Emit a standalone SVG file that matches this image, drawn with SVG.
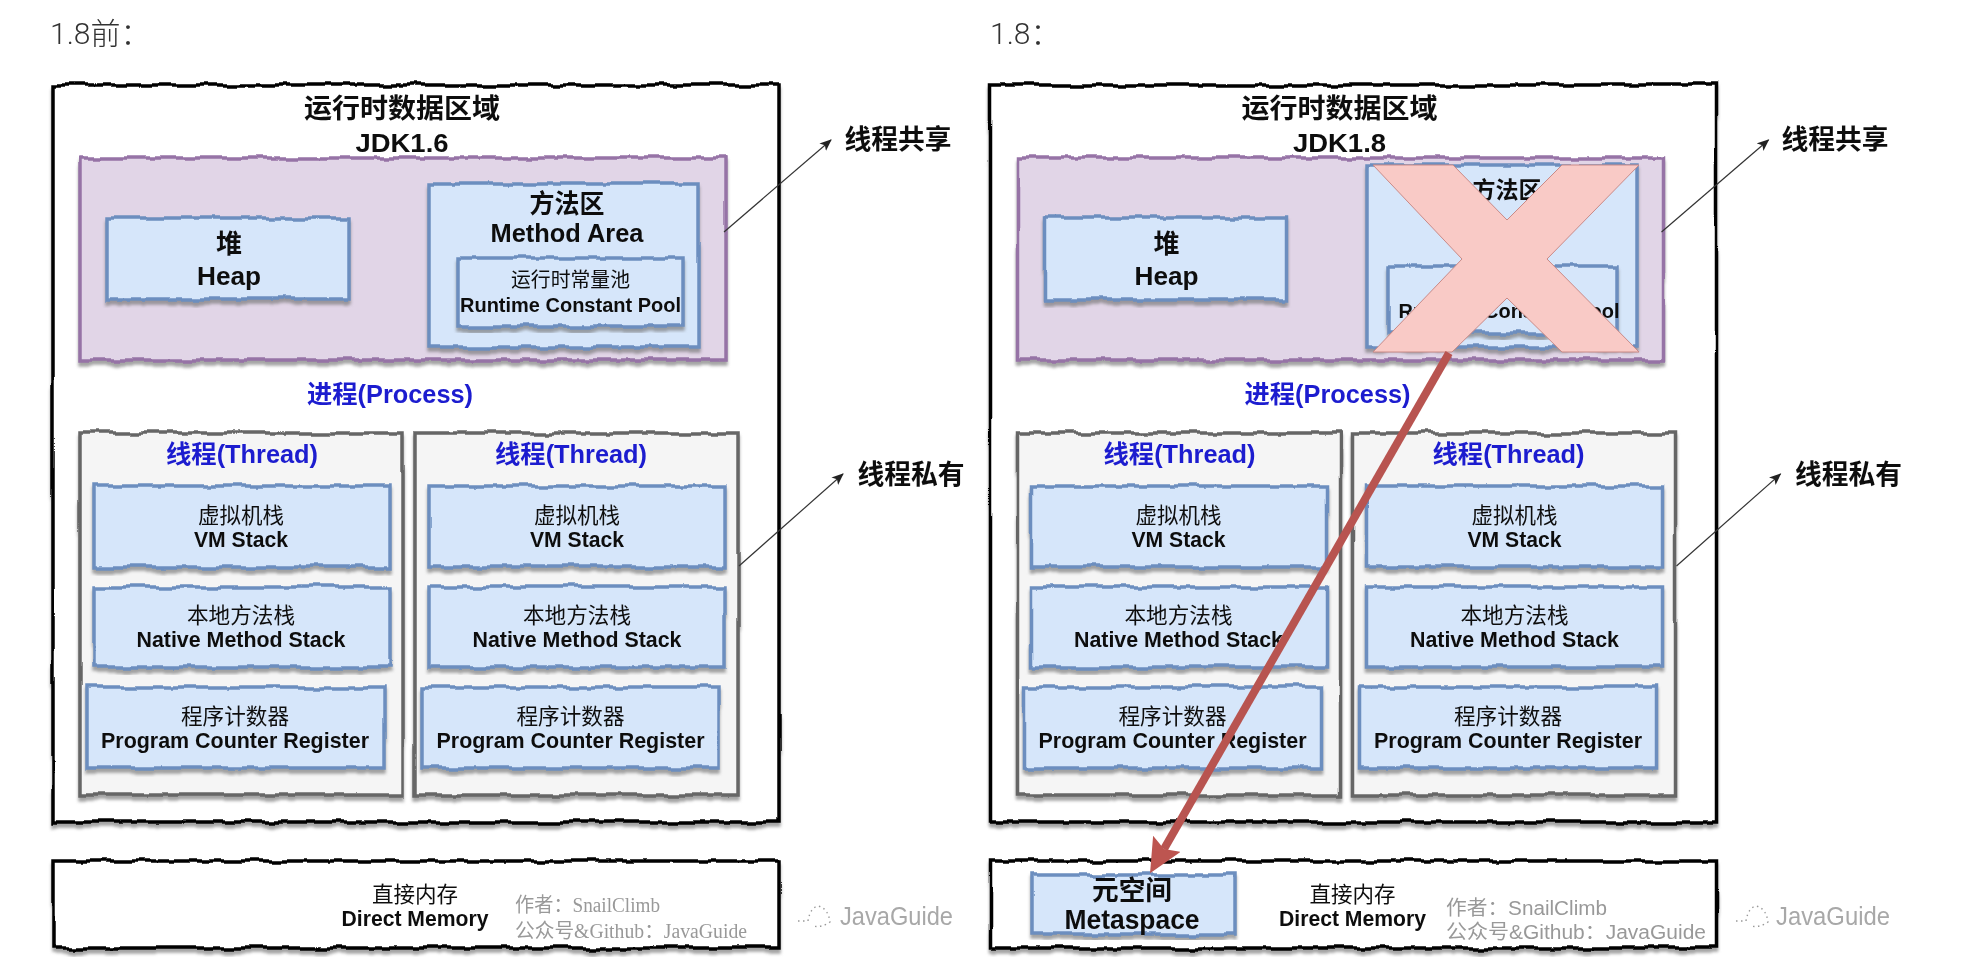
<svg xmlns="http://www.w3.org/2000/svg" width="1966" height="968" viewBox="0 0 1966 968">
<style>
text{font-family:"Liberation Sans","Noto Sans CJK SC",sans-serif;text-anchor:middle;fill:#111;font-weight:700;filter:url(#soft)}
.h{font-size:30px;font-weight:300;text-anchor:start;fill:#333;font-family:"Roboto","Noto Sans CJK SC",sans-serif}
.xl{font-size:27px}.l{font-size:26px}.m{font-size:22px}.s{font-size:20px}.r{font-weight:400;font-size:20px}.c{font-weight:400;font-size:21.5px}
.b{fill:#1c1ccf;font-size:25px}
.g{fill:#999;font-weight:400;font-size:20px;text-anchor:start}
.gs{font-family:"Liberation Serif","Noto Sans CJK SC",serif}
.wm{fill:#a8a8a8;font-weight:400;font-size:25px;text-anchor:start}
rect{filter:url(#rough)}
.o{fill:#fff;stroke:#000;stroke-width:3.5}
.p{fill:#e1d5e7;stroke:#9673a6;stroke-width:3.5}
.u{fill:#d6e6fa;stroke:#6c8ebf;stroke-width:3.5}
.t{fill:#f5f5f5;stroke:#666;stroke-width:3.5}
.th{fill:none;stroke:#333;stroke-width:1.2;marker-end:url(#tip)}
.ic{fill:none;stroke:#999;stroke-width:1.4;stroke-dasharray:1.5 3.5}
</style>
<defs>
<filter id="soft" x="-5%" y="-20%" width="110%" height="140%"><feGaussianBlur stdDeviation="0.45"/></filter>
<filter id="rough" x="-5%" y="-10%" width="110%" height="120%" color-interpolation-filters="sRGB">
<feTurbulence type="fractalNoise" baseFrequency="0.045 0.008" numOctaves="2" seed="4" result="n"/>
<feColorMatrix in="n" type="matrix" values="1 0 0 0 0 0 .35 0 0 .325 0 0 0 0 .5 0 0 0 0 1" result="nm"/>
<feDisplacementMap in="SourceGraphic" in2="nm" scale="8" xChannelSelector="G" yChannelSelector="R" result="d0"/>
<feGaussianBlur in="d0" stdDeviation="0.4" result="d"/>
<feGaussianBlur in="d" stdDeviation="1.4" result="bl"/>
<feOffset in="bl" dy="4" result="of"/>
<feColorMatrix in="of" type="matrix" values="0 0 0 0 .45 0 0 0 0 .45 0 0 0 0 .45 0 0 0 .65 0" result="sh"/>
<feMerge><feMergeNode in="sh"/><feMergeNode in="d"/></feMerge>
</filter>
<marker id="tip" markerUnits="userSpaceOnUse" markerWidth="14" markerHeight="12" refX="11" refY="5" orient="auto"><path d="M0,0L12,5L0,10L3,5Z" fill="#222"/></marker>
<marker id="redtip" markerUnits="userSpaceOnUse" markerWidth="36" markerHeight="34" refX="6" refY="16" orient="auto"><path d="M0,0L34,16L0,32L6,16Z" fill="#bd5550"/></marker>
</defs>
<rect width="1966" height="968" fill="#fff" style="filter:none"/>
<text class="h" x="50" y="44">1.8前：</text>
<text class="h" x="990" y="44">1.8：</text>

<g id="left-runtime-area"><rect class="o" x="53" y="85" width="726" height="737"/>
<text class="xl" x="402" y="118" textLength="196" lengthAdjust="spacingAndGlyphs">运行时数据区域</text>
<text class="l" x="402" y="152" textLength="93" lengthAdjust="spacingAndGlyphs">JDK1.6</text>
<text class="b" x="390" y="403" textLength="166" lengthAdjust="spacingAndGlyphs">进程(Process)</text></g>
<g id="left-shared"><rect class="p" x="80" y="158" width="646" height="202"/></g>
<g id="left-heap"><rect class="u" x="107" y="218" width="242" height="81"/>
<text class="l" x="229" y="253">堆</text><text class="l" x="229" y="285" textLength="64" lengthAdjust="spacingAndGlyphs">Heap</text></g>
<g id="left-method-area"><rect class="u" x="429" y="184" width="269" height="163"/>
<text class="l" x="567" y="213" textLength="75" lengthAdjust="spacingAndGlyphs">方法区</text>
<text class="l" x="567" y="242" textLength="153" lengthAdjust="spacingAndGlyphs">Method Area</text></g>
<g id="left-constant-pool"><rect class="u" x="458" y="258" width="225" height="68"/>
<text class="r" x="570.5" y="287" textLength="119" lengthAdjust="spacingAndGlyphs">运行时常量池</text>
<text class="s" x="570.5" y="312" textLength="221" lengthAdjust="spacingAndGlyphs">Runtime Constant Pool</text></g>
<g id="left-thread-1"><rect class="t" x="80" y="433" width="323" height="362"/>
<text class="b" x="242" y="463" textLength="152" lengthAdjust="spacingAndGlyphs">线程(Thread)</text></g>
<g id="left-thread-2"><rect class="t" x="415" y="433" width="323" height="362"/>
<text class="b" x="571" y="463" textLength="152" lengthAdjust="spacingAndGlyphs">线程(Thread)</text></g>
<g id="left-vm-1"><rect class="u" x="94" y="486" width="296" height="81"/>
<text class="c" x="241" y="523" textLength="86" lengthAdjust="spacingAndGlyphs">虚拟机栈</text><text class="m" x="241" y="547" textLength="94" lengthAdjust="spacingAndGlyphs">VM Stack</text></g>
<g id="left-vm-2"><rect class="u" x="429" y="486" width="296" height="81"/>
<text class="c" x="577" y="523" textLength="86" lengthAdjust="spacingAndGlyphs">虚拟机栈</text><text class="m" x="577" y="547" textLength="94" lengthAdjust="spacingAndGlyphs">VM Stack</text></g>
<g id="left-native-1"><rect class="u" x="94" y="587" width="296" height="80"/>
<text class="c" x="241" y="623" textLength="108" lengthAdjust="spacingAndGlyphs">本地方法栈</text><text class="m" x="241" y="647" textLength="209" lengthAdjust="spacingAndGlyphs">Native Method Stack</text></g>
<g id="left-native-2"><rect class="u" x="429" y="587" width="296" height="80"/>
<text class="c" x="577" y="623" textLength="108" lengthAdjust="spacingAndGlyphs">本地方法栈</text><text class="m" x="577" y="647" textLength="209" lengthAdjust="spacingAndGlyphs">Native Method Stack</text></g>
<g id="left-pc-1"><rect class="u" x="87" y="687" width="297" height="81"/>
<text class="c" x="235" y="724" textLength="108" lengthAdjust="spacingAndGlyphs">程序计数器</text><text class="m" x="235" y="748" textLength="268" lengthAdjust="spacingAndGlyphs">Program Counter Register</text></g>
<g id="left-pc-2"><rect class="u" x="422" y="687" width="297" height="81"/>
<text class="c" x="570.5" y="724" textLength="108" lengthAdjust="spacingAndGlyphs">程序计数器</text><text class="m" x="570.5" y="748" textLength="268" lengthAdjust="spacingAndGlyphs">Program Counter Register</text></g>
<g id="left-direct-memory"><rect class="o" x="53" y="861" width="726" height="87"/>
<text class="c" x="415" y="902" textLength="86" lengthAdjust="spacingAndGlyphs">直接内存</text><text class="m" x="415" y="926" textLength="147" lengthAdjust="spacingAndGlyphs">Direct Memory</text>
<text class="g gs" x="515" y="912" textLength="145" lengthAdjust="spacingAndGlyphs">作者：SnailClimb</text>
<text class="g gs" x="515" y="938" textLength="232" lengthAdjust="spacingAndGlyphs">公众号&amp;Github：JavaGuide</text></g>
<g id="left-label-shared"><text class="xl" x="898" y="149" textLength="107" lengthAdjust="spacingAndGlyphs">线程共享</text></g>
<g id="left-label-private"><text class="xl" x="911" y="484" textLength="107" lengthAdjust="spacingAndGlyphs">线程私有</text></g>
<g id="left-watermark"><path class="ic" d="M798,921L808,921Q810,908 818,906Q828,908 830,922Q822,928 812,926"/>
<text class="wm" x="840" y="925" textLength="113" lengthAdjust="spacingAndGlyphs">JavaGuide</text></g>

<g id="right-runtime-area"><rect class="o" x="990.5" y="85" width="726" height="737"/>
<text class="xl" x="1339.5" y="118" textLength="196" lengthAdjust="spacingAndGlyphs">运行时数据区域</text>
<text class="l" x="1339.5" y="152" textLength="93" lengthAdjust="spacingAndGlyphs">JDK1.8</text>
<text class="b" x="1327.5" y="403" textLength="166" lengthAdjust="spacingAndGlyphs">进程(Process)</text></g>
<g id="right-shared"><rect class="p" x="1017.5" y="158" width="646" height="202"/></g>
<g id="right-heap"><rect class="u" x="1044.5" y="218" width="242" height="81"/>
<text class="l" x="1166.5" y="253">堆</text><text class="l" x="1166.5" y="285" textLength="64" lengthAdjust="spacingAndGlyphs">Heap</text></g>
<g id="right-method-area"><rect class="u" x="1367" y="165" width="270" height="182"/>
<text class="l" x="1507" y="198" style="font-size:23px">方法区</text>
<text class="m" x="1507" y="230" textLength="130" lengthAdjust="spacingAndGlyphs">Method Area</text></g>
<g id="right-constant-pool"><rect class="u" x="1388" y="266" width="229" height="67"/>
<text class="s" x="1509" y="318" textLength="221" lengthAdjust="spacingAndGlyphs">Runtime Constant Pool</text></g>
<g id="right-thread-1"><rect class="t" x="1017.5" y="433" width="323" height="362"/>
<text class="b" x="1179.5" y="463" textLength="152" lengthAdjust="spacingAndGlyphs">线程(Thread)</text></g>
<g id="right-thread-2"><rect class="t" x="1352.5" y="433" width="323" height="362"/>
<text class="b" x="1508.5" y="463" textLength="152" lengthAdjust="spacingAndGlyphs">线程(Thread)</text></g>
<g id="right-vm-1"><rect class="u" x="1031.5" y="486" width="296" height="81"/>
<text class="c" x="1178.5" y="523" textLength="86" lengthAdjust="spacingAndGlyphs">虚拟机栈</text><text class="m" x="1178.5" y="547" textLength="94" lengthAdjust="spacingAndGlyphs">VM Stack</text></g>
<g id="right-vm-2"><rect class="u" x="1366.5" y="486" width="296" height="81"/>
<text class="c" x="1514.5" y="523" textLength="86" lengthAdjust="spacingAndGlyphs">虚拟机栈</text><text class="m" x="1514.5" y="547" textLength="94" lengthAdjust="spacingAndGlyphs">VM Stack</text></g>
<g id="right-native-1"><rect class="u" x="1031.5" y="587" width="296" height="80"/>
<text class="c" x="1178.5" y="623" textLength="108" lengthAdjust="spacingAndGlyphs">本地方法栈</text><text class="m" x="1178.5" y="647" textLength="209" lengthAdjust="spacingAndGlyphs">Native Method Stack</text></g>
<g id="right-native-2"><rect class="u" x="1366.5" y="587" width="296" height="80"/>
<text class="c" x="1514.5" y="623" textLength="108" lengthAdjust="spacingAndGlyphs">本地方法栈</text><text class="m" x="1514.5" y="647" textLength="209" lengthAdjust="spacingAndGlyphs">Native Method Stack</text></g>
<g id="right-pc-1"><rect class="u" x="1024.5" y="687" width="297" height="81"/>
<text class="c" x="1172.5" y="724" textLength="108" lengthAdjust="spacingAndGlyphs">程序计数器</text><text class="m" x="1172.5" y="748" textLength="268" lengthAdjust="spacingAndGlyphs">Program Counter Register</text></g>
<g id="right-pc-2"><rect class="u" x="1359.5" y="687" width="297" height="81"/>
<text class="c" x="1508" y="724" textLength="108" lengthAdjust="spacingAndGlyphs">程序计数器</text><text class="m" x="1508" y="748" textLength="268" lengthAdjust="spacingAndGlyphs">Program Counter Register</text></g>
<g id="right-direct-memory"><rect class="o" x="990.5" y="861" width="726" height="87"/>
<text class="c" x="1352.5" y="902" textLength="86" lengthAdjust="spacingAndGlyphs">直接内存</text><text class="m" x="1352.5" y="926" textLength="147" lengthAdjust="spacingAndGlyphs">Direct Memory</text>
<text class="g" x="1446" y="915" textLength="161" lengthAdjust="spacingAndGlyphs">作者：SnailClimb</text>
<text class="g" x="1446" y="939" textLength="260" lengthAdjust="spacingAndGlyphs">公众号&amp;Github：JavaGuide</text></g>
<g id="right-metaspace"><rect class="u" x="1032" y="875" width="203" height="59"/>
<text class="xl" x="1132" y="900" textLength="80" lengthAdjust="spacingAndGlyphs">元空间</text><text class="xl" x="1132" y="929" textLength="135" lengthAdjust="spacingAndGlyphs">Metaspace</text></g>
<g id="right-label-shared"><text class="xl" x="1835" y="149" textLength="107" lengthAdjust="spacingAndGlyphs">线程共享</text></g>
<g id="right-label-private"><text class="xl" x="1848.5" y="484" textLength="107" lengthAdjust="spacingAndGlyphs">线程私有</text></g>
<g id="right-watermark"><path class="ic" d="M1736,921L1746,921Q1748,908 1756,906Q1766,908 1768,922Q1760,928 1750,926"/>
<text class="wm" x="1776" y="925" textLength="114" lengthAdjust="spacingAndGlyphs">JavaGuide</text></g>

<g id="removed-method-area-cross"><polygon points="1373,165 1453,165 1507,220 1562,165 1639,165 1547,259 1639,352 1562,352 1507,298 1452,352 1373,352 1462,259" fill="#f9cac6" stroke="#c98a87" stroke-width="1"/></g>

<g id="connectors">
<path class="th" d="M724,232L831,140"/>
<path class="th" d="M739,566L843,474"/>
<path class="th" d="M1661.5,232L1768.5,140"/>
<path class="th" d="M1676.5,566L1780.5,474"/>
<path d="M1449,353L1164,849" fill="none" stroke="#b85450" stroke-width="8" marker-end="url(#redtip)"/>
</g>
</svg>
